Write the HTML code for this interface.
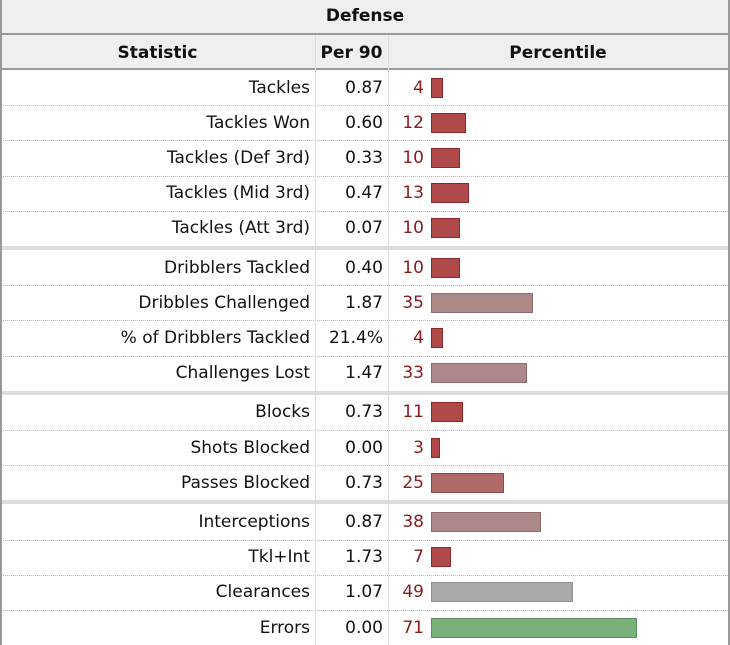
<!DOCTYPE html>
<html><head><meta charset="utf-8"><style>
body{margin:0;width:730px;height:645px;overflow:hidden;background:#fff;font-family:"DejaVu Sans","Liberation Sans",sans-serif;color:#111}
#t{position:absolute;left:0;top:0;width:730px;height:645px}
.a{position:absolute;font-size:17px;line-height:20px;white-space:nowrap}
.h{font-size:17px}
</style></head><body>
<div id="t"></div>
<script>
const labels=["Tackles","Tackles Won","Tackles (Def 3rd)","Tackles (Mid 3rd)","Tackles (Att 3rd)","Dribblers Tackled","Dribbles Challenged","% of Dribblers Tackled","Challenges Lost","Blocks","Shots Blocked","Passes Blocked","Interceptions","Tkl+Int","Clearances","Errors"];
const per90=["0.87","0.60","0.33","0.47","0.07","0.40","1.87","21.4%","1.47","0.73","0.00","0.73","0.87","1.73","1.07","0.00"];
const pct=[4,12,10,13,10,10,35,4,33,11,3,25,38,7,49,71];
const groupEnds=[4,8,11];
const t=document.getElementById('t');
function box(x,y,w,h,bg,extra){const d=document.createElement('div');d.style.cssText=`position:absolute;left:${x}px;top:${y}px;width:${w}px;height:${h}px;background:${bg};${extra||''}`;t.appendChild(d);return d;}
function txt(s,x,y,w,align,bold,color){const d=document.createElement('div');d.className='a'+(bold?' h':'');d.textContent=s;d.style.cssText+=`left:${x}px;top:${y}px;width:${w}px;text-align:${align};font-weight:${bold?'bold':'normal'};color:${color||'#111'}`;t.appendChild(d);return d;}
let h=box(0,0,730,35,'#efefef','border-bottom:2px solid #999;box-sizing:border-box');

let tt=txt('Defense',0,6,730,'center',true);

let hh=box(0,35,730,35,'#efefef','border-bottom:2px solid #999;box-sizing:border-box');

let c1=txt('Statistic',0,43,315,'center',true);
let c2=txt('Per 90',315,43,73,'center',true);
let c3=txt('Percentile',388,43,340,'center',true);
const RH=35.2;let y=70;
function color(p){if(p<=15)return['#b04a4a','#8a2a2a'];if(p<=28)return['#b06a6a','#8a4a4a'];if(p<=45)return['#ad8888','#8f6a6a'];if(p<=60)return['#aaa8a8','#909090'];return['#7ab07a','#5a905a'];}
for(let i=0;i<labels.length;i++){
  const cy=y+RH/2;
  if(i>0&&!groupEnds.includes(i-1)){box(0,y,730,0,'none','border-top:1px dotted #bbb');}
  let l=txt(labels[i],0,cy-10,310,'right');
  let v=txt(per90[i],315,cy-10,68,'right');
  let n=txt(String(pct[i]),388,cy-10,36,'right',false,'#8b1a1a');
  const [bg,bd]=color(pct[i]);
  let b=box(431,cy-10,pct[i]*2.9,20,bg,`border:1px solid ${bd};box-sizing:border-box`);
  
  y+=RH;
  if(groupEnds.includes(i)){let s=box(0,y,730,4,'#dcdcdc');y+=4;}
}
box(315,35,1,610,'#ddd');box(388,35,1,610,'#ddd');
box(0,0,2,645,'#999');box(728,0,2,645,'#999');
</script>
</body></html>
